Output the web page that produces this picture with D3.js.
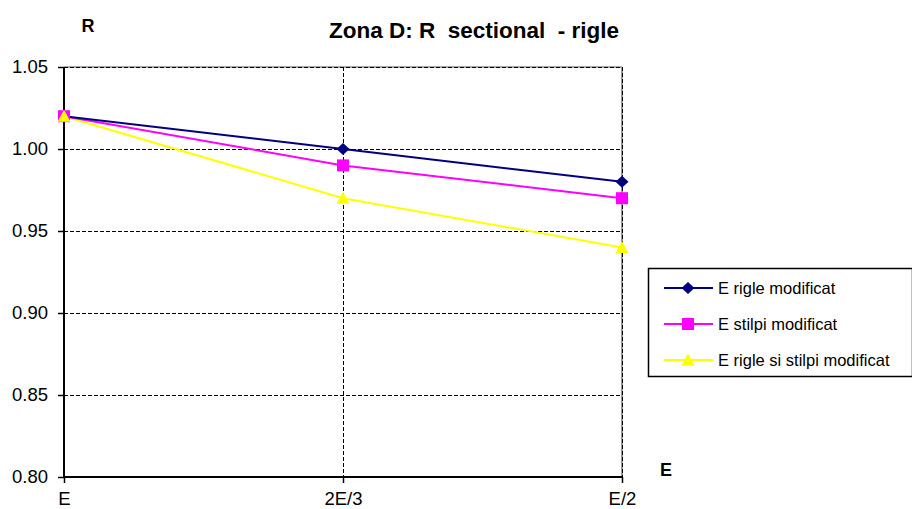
<!DOCTYPE html>
<html>
<head>
<meta charset="utf-8">
<script src="https://cdn.jsdelivr.net/npm/d3@7"></script>
<style>
  body { margin: 0; background: #fff; }
  svg { display: block; font-family: "Liberation Sans", Arial, sans-serif; }
</style>
</head>
<body>
<svg width="912" height="509"></svg>
<script>
// categories on the x axis
const categorii = ["E", "2E/3", "E/2"];

// series
const serii = ["E rigle modificat", "E stilpi modificat", "E rigle si stilpi modificat"];
const val_rigle = [1.02, 1.00, 0.98];
const val_stilpi = [1.02, 0.99, 0.97];
const val_ambele = [1.02, 0.97, 0.94];

const culori = ["#000080", "#FF00FF", "#FFFF00"];

const y_ticks = [0.80, 0.85, 0.90, 0.95, 1.00, 1.05];

// marker shapes (Excel-like)
const markere = [
  "M0,-6L6.5,0L0,6L-6.5,0Z",       // romb
  "M-6,-6H6V6H-6Z",                // patrat
  "M0,-6.5L6.5,5.5H-6.5Z"          // triunghi
];

const svg = d3.select("svg");

const plot = { left: 64, right: 622, top: 67, bottom: 477 };

const x = d3.scalePoint()
  .domain(categorii)
  .range([plot.left, plot.right]);

const y = d3.scaleLinear()
  .domain([0.80, 1.05])
  .range([plot.bottom, plot.top]);

// right border (gray)
svg.append("line")
  .attr("x1", plot.right).attr("x2", plot.right)
  .attr("y1", plot.top).attr("y2", plot.bottom)
  .attr("stroke", "#999").attr("stroke-width", 2);

// top border (gray)
svg.append("line")
  .attr("x1", plot.left).attr("x2", plot.right)
  .attr("y1", plot.top).attr("y2", plot.top)
  .attr("stroke", "#aaa").attr("stroke-width", 2);

// grid - horizontal
svg.append("g")
  .selectAll("line")
  .data(y_ticks.slice(1))
  .join("line")
  .attr("x1", plot.left).attr("x2", plot.right)
  .attr("y1", d => y(d) + 0.5).attr("y2", d => y(d) + 0.5)
  .attr("stroke", "#000")
  .attr("stroke-width", 1)
  .attr("stroke-dasharray", "4,2");

// grid - vertical
svg.append("g")
  .selectAll("line")
  .data(categorii.slice(1))
  .join("line")
  .attr("x1", d => x(d) + 0.5).attr("x2", d => x(d) + 0.5)
  .attr("y1", plot.top).attr("y2", plot.bottom)
  .attr("stroke", "#000")
  .attr("stroke-dasharray", "4,2");

// axes
const axaY = d3.axisLeft(y)
  .tickValues(y_ticks)
  .tickFormat(d3.format(".2f"))
  .tickSize(6)
  .tickPadding(10);

const gy = svg.append("g")
  .attr("transform", `translate(${plot.left},0)`)
  .call(axaY);
gy.attr("font-size", null).attr("font-family", null);
gy.select(".domain").attr("stroke", "#000").attr("stroke-width", 2).attr("d", `M0,${plot.bottom}V${plot.top}`);
gy.selectAll(".tick line").attr("stroke", "#000").attr("stroke-width", 1.5);
gy.selectAll(".tick text").attr("font-size", 18.5).attr("fill", "#000");

const axaX = d3.axisBottom(x)
  .tickSize(6)
  .tickPadding(9);

const gx = svg.append("g")
  .attr("transform", `translate(0,${plot.bottom})`)
  .call(axaX);
gx.attr("font-size", null).attr("font-family", null);
gx.select(".domain").attr("stroke", "#000").attr("stroke-width", 2).attr("d", `M${plot.left},0H${plot.right}`);
gx.selectAll(".tick line").attr("stroke", "#000").attr("stroke-width", 1.5);
gx.selectAll(".tick text").attr("font-size", 18.5).attr("fill", "#000");

// series
const date = [val_rigle, val_stilpi, val_ambele];

const linie = d3.line()
  .x((d, i) => x(categorii[i]))
  .y(d => y(d));

// draw in reverse so the first series sits on top
[2, 1, 0].forEach(s => {
  svg.append("path")
    .datum(date[s])
    .attr("d", linie)
    .attr("fill", "none")
    .attr("stroke", culori[s])
    .attr("stroke-width", 2);
});

[0, 1, 2].forEach(s => {
  svg.append("g")
    .selectAll("path")
    .data(date[s])
    .join("path")
    .attr("transform", (d, i) => `translate(${x(categorii[i])},${y(d)})`)
    .attr("d", markere[s])
    .attr("fill", culori[s]);
});

// titles
svg.append("text")
  .attr("x", 474).attr("y", 38)
  .attr("text-anchor", "middle")
  .attr("font-size", 22.5).attr("font-weight", "bold")
  .attr("xml:space", "preserve")
  .style("white-space", "pre")
  .text("Zona D: R  sectional  - rigle");

svg.append("text")
  .attr("x", 88).attr("y", 32)
  .attr("text-anchor", "middle")
  .attr("font-size", 18).attr("font-weight", "bold")
  .text("R");

svg.append("text")
  .attr("x", 666).attr("y", 476)
  .attr("text-anchor", "middle")
  .attr("font-size", 18).attr("font-weight", "bold")
  .text("E");

// legend
const leg = svg.append("g").attr("transform", "translate(648,268)");
leg.append("rect")
  .attr("x", 0.5).attr("y", 0.5)
  .attr("width", 264).attr("height", 108)
  .attr("fill", "#fff").attr("stroke", "#000").attr("stroke-width", 1.5);

const randuri = leg.selectAll("g.item")
  .data(serii)
  .join("g")
  .attr("class", "item")
  .attr("transform", (d, i) => `translate(0,${20 + i * 36})`);

randuri.append("line")
  .attr("x1", 16).attr("x2", 65)
  .attr("stroke", (d, i) => culori[i]).attr("stroke-width", 2);

randuri.append("path")
  .attr("transform", "translate(40,0)")
  .attr("d", (d, i) => markere[i])
  .attr("fill", (d, i) => culori[i]);

randuri.append("text")
  .attr("x", 70).attr("y", 6)
  .attr("font-size", 16.5)
  .text(d => d);
</script>
</body>
</html>
